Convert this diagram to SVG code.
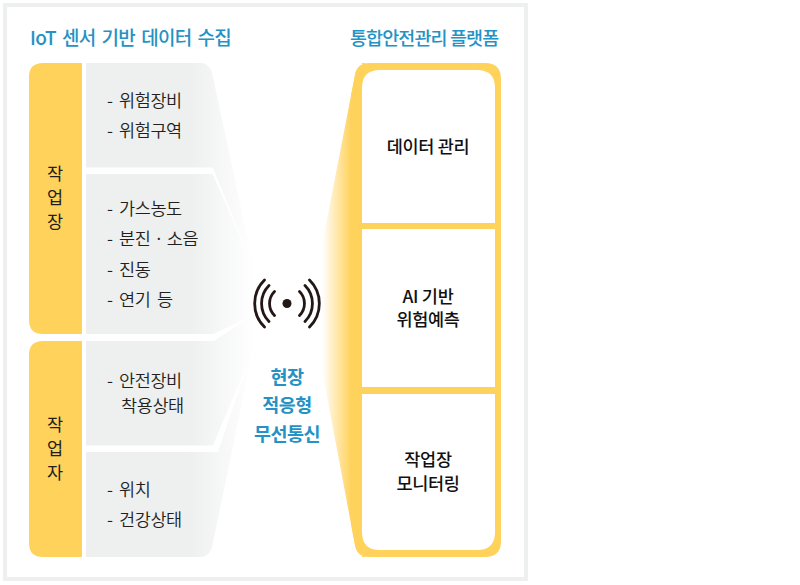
<svg xmlns="http://www.w3.org/2000/svg" width="800" height="585" viewBox="0 0 800 585">
<style>
text{font-family:"Noto Sans CJK KR","Noto Sans",sans-serif}
.h{font-size:18.5px;font-weight:500;fill:#2492c4;letter-spacing:-.9px}
.i{font-size:17.500px;font-weight:350;fill:#231f20;letter-spacing:-.4px}
.v{font-size:17.500px;font-weight:400;fill:#231f20;text-anchor:middle}
.b{font-size:17.500px;font-weight:500;fill:#111;text-anchor:middle;letter-spacing:-.3px}
.c{font-size:18.500px;font-weight:600;fill:#2492c4;text-anchor:middle;letter-spacing:-.5px}
.y{fill:#ffd25c}
.w{fill:none;stroke:#231815;stroke-width:2.8;stroke-linecap:round}
</style>
<defs>
<linearGradient id="gg" gradientUnits="userSpaceOnUse" x1="190" y1="0" x2="254" y2="0"><stop offset="0" stop-color="#eeefef"/><stop offset="1" stop-color="#eeefef" stop-opacity="0"/></linearGradient>
<linearGradient id="yg" gradientUnits="userSpaceOnUse" x1="322" y1="0" x2="351" y2="0"><stop offset="0" stop-color="#ffd25c" stop-opacity="0"/><stop offset="1" stop-color="#ffd25c"/></linearGradient>
</defs>
<rect width="800" height="585" fill="#fff"/>
<rect x="5" y="5" width="521" height="574" fill="#fff" stroke="#eeefef" stroke-width="4"/>
<text class="h" x="30" y="45" style="font-size:19px;letter-spacing:-.7px;word-spacing:2.5px">IoT 센서 기반 데이터 수집</text>
<text class="h" x="350" y="45">통합안전관리 플랫폼</text>

<g id="connectors">
<path d="M86 63H200Q210 63 212.500 75L254 268V345L212.500 545Q210 557 200 557H86Z" fill="url(#gg)"/>
<path d="M86 167.500H213L252 264L212.500 174H86Z" fill="#fff"/>
<path d="M86 334H213L252 316L214 341H86Z" fill="#fff"/>
<path d="M86 445.500H213L252 352L218 452H86Z" fill="#fff"/>
</g>

<g id="node-worksite"><path class="y" d="M82 63V334H43Q29 334 29 320V77Q29 63 43 63Z"/><text class="v" x="55" y="180">작</text><text class="v" x="55" y="204">업</text><text class="v" x="55" y="228">장</text></g>
<g id="node-worker"><path class="y" d="M82 341V557H43Q29 557 29 543V355Q29 341 43 341Z"/><text class="v" x="55" y="431">작</text><text class="v" x="55" y="455">업</text><text class="v" x="55" y="479">자</text></g>

<g id="node-group1"><text class="i" x="107" y="107">- <tspan x="119">위험장비</tspan></text><text class="i" x="107" y="137">- <tspan x="119">위험구역</tspan></text></g>
<g id="node-group2"><text class="i" x="107" y="215">- <tspan x="119">가스농도</tspan></text><text class="i" x="107" y="245">- <tspan x="119">분진 · 소음</tspan></text><text class="i" x="107" y="276">- <tspan x="119">진동</tspan></text><text class="i" x="107" y="306">- <tspan x="119" word-spacing="3">연기 등</tspan></text></g>
<g id="node-group3"><text class="i" x="107" y="387">- <tspan x="119">안전장비</tspan></text><text class="i" x="121" y="412">착용상태</text></g>
<g id="node-group4"><text class="i" x="107" y="496">- <tspan x="119">위치</tspan></text><text class="i" x="107" y="526">- <tspan x="119">건강상태</tspan></text></g>

<g id="node-wireless">
<circle cx="287" cy="303.500" r="4.500" fill="#231815"/>
<path class="w" d="M274.500 291.500A17 17 0 0 0 274.500 315.500M299.500 291.500A17 17 0 0 1 299.500 315.500M269 285.500A25.500 25.500 0 0 0 269 321.500M305 285.500A25.500 25.500 0 0 1 305 321.500M264.500 280A33 33 0 0 0 264.500 327M309.500 280A33 33 0 0 1 309.500 327"/>
<text class="c" x="287" y="384">현장</text><text class="c" x="287" y="412">적응형</text><text class="c" x="287" y="441">무선통신</text>
</g>

<g id="node-platform">
<path d="M355 75L323 240Q321 250 321 308Q321 365 323 375L355 545Q357 557 370 557H362V63H370Q357 63 355 75Z" fill="url(#yg)"/>
<path class="y" d="M351 96L355 75Q357 63 370 63H485Q501 63 501 79V541Q501 557 485 557H370Q357 557 355 545L351 524Z"/>
<path d="M362 223V88Q362 70 380 70H477Q495 70 495 88V223Z" fill="#fff"/>
<rect x="362" y="229" width="133" height="158" fill="#fff"/>
<path d="M362 394V532Q362 550 380 550H477Q495 550 495 532V394Z" fill="#fff"/>
<text class="b" x="428" y="153">데이터 관리</text>
<text class="b" x="428" y="303">AI 기반</text><text class="b" x="428" y="326">위험예측</text>
<text class="b" x="428" y="466">작업장</text><text class="b" x="428" y="490">모니터링</text>
</g>
</svg>
